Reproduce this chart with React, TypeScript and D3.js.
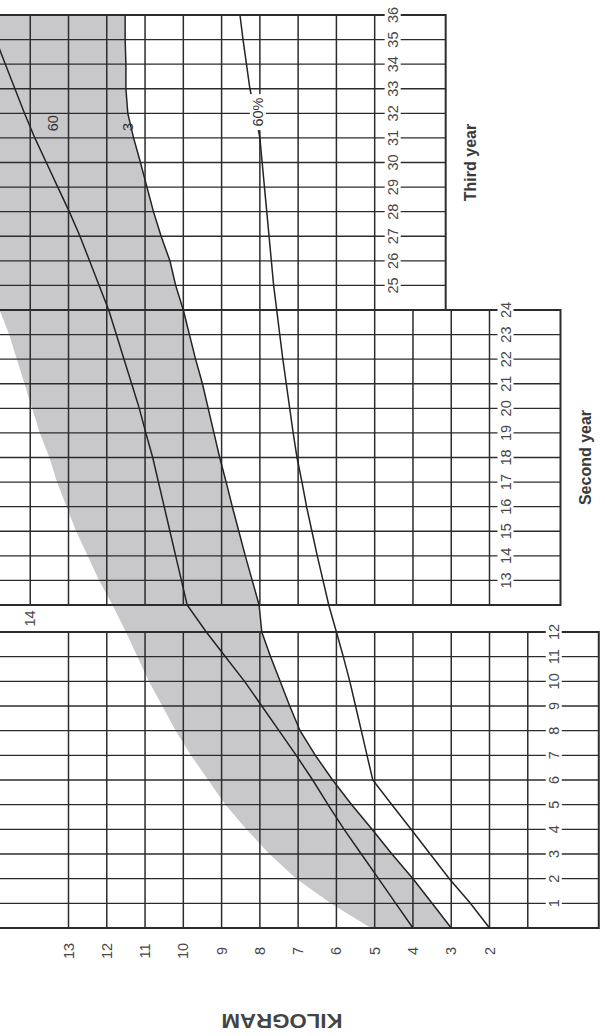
import React from "react"
import * as d3 from "d3"

// ---------- Data ----------
// weight axis (kg) tick labels along the bottom
const KG_TICKS = [13, 12, 11, 10, 9, 8, 7, 6, 5, 4, 3, 2]

// months drawn in the first-year panel and in the joined second/third-year panels
const MONTHS_FIRST = d3.range(0, 13)   // 0..12
const MONTHS_LATER = d3.range(12, 37)  // 12..36

// upper edge of the shaded band
const UPPER_FIRST = [5.1, 6.15, 7.05, 7.75, 8.35, 8.9, 9.35, 9.8, 10.2, 10.55, 10.9, 11.2, 11.5]
const UPPER_LATER = [11.85, 12.2, 12.5, 12.8, 13.05, 13.3, 13.5, 13.75, 13.95, 14.15, 14.35, 14.55, 14.8,
    15.0, 15.2, 15.45, 15.65, 15.85, 16.05, 16.25, 16.45, 16.65, 16.85, 17.0, 17.2]

// middle line ("60")
const MIDDLE_FIRST = [4.0, 4.45, 4.9, 5.35, 5.8, 6.22, 6.62, 7.05, 7.5, 7.95, 8.4, 8.9, 9.4]
const MIDDLE_LATER = [9.9, 10.05, 10.2, 10.35, 10.5, 10.65, 10.8, 10.98, 11.15, 11.35, 11.55, 11.75, 11.95,
    12.2, 12.45, 12.7, 12.98, 13.28, 13.58, 13.88, 14.15, 14.4, 14.65, 14.9, 15.15]

// lower edge of the shaded band ("3")
const LOWER_FIRST = [3.0, 3.5, 4.0, 4.55, 5.07, 5.6, 6.1, 6.55, 6.95, 7.22, 7.47, 7.72, 7.95]
const LOWER_LATER = [8.02, 8.2, 8.38, 8.55, 8.72, 8.88, 9.05, 9.2, 9.35, 9.5, 9.68, 9.84, 10.0,
    10.2, 10.35, 10.58, 10.78, 10.95, 11.12, 11.3, 11.45, 11.5, 11.5, 11.52, 11.52]

// "60%" line
const SIXTY_FIRST = [2.0, 2.5, 3.05, 3.55, 4.05, 4.55, 5.05, 5.2, 5.35, 5.5, 5.65, 5.82, 6.0]
const SIXTY_LATER = [6.2, 6.35, 6.5, 6.64, 6.78, 6.9, 7.03, 7.13, 7.22, 7.31, 7.4, 7.48, 7.56,
    7.64, 7.7, 7.76, 7.82, 7.88, 7.94, 8.0, 8.12, 8.26, 8.35, 8.44, 8.52]

// curve labels: [text, kg, month]
const CURVE_LABELS: [string, number, number][] = [
    ["60", 13.4, 31.6],
    ["3", 11.45, 31.45],
]
const SIXTY_LABEL: [string, number, number] = ["60%", 8.05, 32.05]

// ---------- Layout ----------
const W = 605
const H = 1036
const INK = "#2c2c2c"
const TEXT = "#474747"
const SHADE = "#c8c8cb"
const FONT = "'Liberation Sans', Arial, sans-serif"
const FS = 14.5

const x = d3.scaleLinear().domain([13, 2]).range([68.5, 489.5])
const yFirst = d3.scaleLinear().domain([0, 12]).range([928, 632])
const yLater = d3.scaleLinear().domain([12, 36]).range([605, 15])

const SECTIONS = [
    { title: "", from: 0, to: 12, minKg: 1, maxKg: 13, y: yFirst, labelGap: 26 },
    { title: "Second year", from: 12, to: 24, minKg: 2, maxKg: 14, y: yLater, labelGap: 16 },
    { title: "Third year", from: 24, to: 36, minKg: 5, maxKg: 14, y: yLater, labelGap: 18 },
]

const toPoints = (first: number[], later: number[]): [number, number][] => [
    ...MONTHS_FIRST.map((m, i) => [x(first[i]), yFirst(m)] as [number, number]),
    ...MONTHS_LATER.map((m, i) => [x(later[i]), yLater(m)] as [number, number]),
]

const line = d3.line<[number, number]>()

const App: React.FC = () => {
    const upper = toPoints(UPPER_FIRST, UPPER_LATER)
    const lower = toPoints(LOWER_FIRST, LOWER_LATER)
    const middle = toPoints(MIDDLE_FIRST, MIDDLE_LATER)
    const sixty = toPoints(SIXTY_FIRST, SIXTY_LATER)
    const band = (line([...upper, ...lower.slice().reverse()]) ?? "") + "Z"

    return (
        <div style={{ position: "absolute", left: 0, top: 0 }}>
            <svg width={W} height={H} style={{ display: "block", background: "#fff" }} fontFamily={FONT}>
                {/* shaded band */}
                <path d={band} fill={SHADE} />

                {/* grid per panel */}
                {SECTIONS.map((s, si) => {
                    const right = x(s.minKg) + 71
                    const months = d3.range(s.from, s.to + 1)
                    const kgs = d3.range(s.minKg, s.maxKg + 1)
                    const labelX = x(s.minKg) + s.labelGap
                    return (
                        <g key={si}>
                            {months.map(m => (
                                <line key={"h" + m} x1={-2} x2={right} y1={s.y(m)} y2={s.y(m)}
                                    stroke={INK} strokeWidth={m === s.from || m === s.to ? 2 : 1.4} />
                            ))}
                            {kgs.map(k => (
                                <line key={"v" + k} x1={x(k)} x2={x(k)} y1={s.y(s.to)} y2={s.y(s.from)}
                                    stroke={INK} strokeWidth={1.5} />
                            ))}
                            <line x1={right} x2={right} y1={s.y(s.to) - 1} y2={s.y(s.from) + 1}
                                stroke={INK} strokeWidth={2} />
                            {months.slice(1).map(m => (
                                <g key={"l" + m} transform={`translate(${labelX},${s.y(m)})`}>
                                    <rect x={-8} y={-12} width={16} height={24} fill="#fff" />
                                    <text transform="rotate(-90)" textAnchor="middle" dominantBaseline="central"
                                        fontSize={FS} fill={TEXT}>{m}</text>
                                </g>
                            ))}
                            {s.title && (
                                <text transform={`translate(${right + 25},${(s.y(s.from) + s.y(s.to)) / 2}) rotate(-90)`}
                                    textAnchor="middle" dominantBaseline="central" fontSize={16} fontWeight="bold"
                                    fill="#3a3a3a">{s.title}</text>
                            )}
                        </g>
                    )
                })}

                {/* curves */}
                {[middle, lower, sixty].map((pts, i) => (
                    <path key={i} d={line(pts) ?? ""} fill="none" stroke="#242424" strokeWidth={1.5} />
                ))}

                {/* curve labels */}
                {CURVE_LABELS.map(([t, kg, m]) => (
                    <text key={t} transform={`translate(${x(kg)},${yLater(m)}) rotate(-90)`}
                        textAnchor="middle" dominantBaseline="central" fontSize={FS} fill="#333">{t}</text>
                ))}
                <g transform={`translate(${x(SIXTY_LABEL[1])},${yLater(SIXTY_LABEL[2])})`}>
                    <rect x={-8} y={-18} width={16} height={36} fill="#fff" />
                    <text transform="rotate(-90)" textAnchor="middle" dominantBaseline="central"
                        fontSize={FS} fill="#333">{SIXTY_LABEL[0]}</text>
                </g>

                {/* 14 kg label in the gap between panels */}
                <text transform={`translate(${x(14)},${(yLater(12) + yFirst(12)) / 2}) rotate(-90)`}
                    textAnchor="middle" dominantBaseline="central" fontSize={FS} fill={TEXT}>14</text>

                {/* kg tick labels */}
                {KG_TICKS.map(k => (
                    <text key={k} transform={`translate(${x(k)},951) rotate(-90)`}
                        textAnchor="middle" dominantBaseline="central" fontSize={FS} fill={TEXT}>{k}</text>
                ))}

                <text transform="translate(282,1021) rotate(180)" textAnchor="middle" dominantBaseline="central"
                    fontSize={20} fontWeight="bold" fill="#444" textLength={121} lengthAdjust="spacingAndGlyphs">
                    KILOGRAM
                </text>
            </svg>
        </div>
    )
}

export default App
